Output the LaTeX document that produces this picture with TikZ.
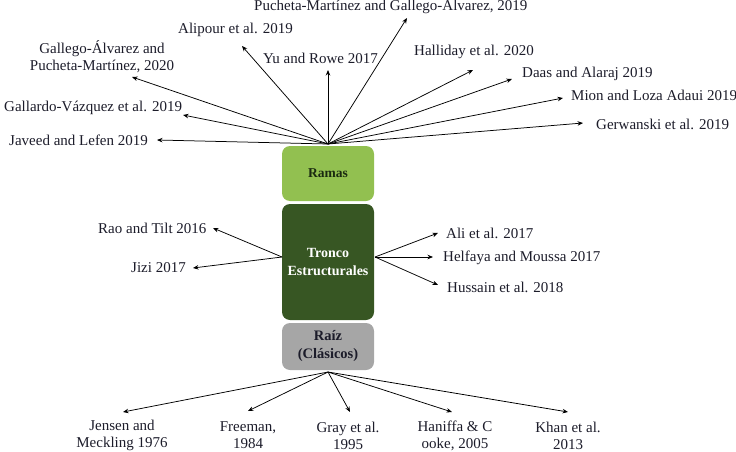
\documentclass[tikz,border=0pt]{standalone}
\usepackage{fontspec}
\setmainfont{Liberation Serif}
\usetikzlibrary{arrows.meta}
\definecolor{ramasgreen}{HTML}{92C050}
\definecolor{troncogreen}{HTML}{375623}
\definecolor{raizgray}{HTML}{A6A6A6}
\definecolor{darktxt}{HTML}{1A2A10}
\definecolor{reftxt}{HTML}{1C1C2A}
\begin{document}
\begin{tikzpicture}[x=1pt,y=-1pt,
  box/.style={rounded corners=8pt,minimum width=92pt,inner sep=0pt,align=center},
  ref/.style={font=\fontsize{15}{17}\selectfont,text=reftxt,inner sep=1pt,align=center},
  arr/.style={-{Stealth[length=5.5pt,width=4.5pt]},line width=0.75pt,black}]
\useasboundingbox (0,0) rectangle (736,452);
% boxes
\node[box,fill=ramasgreen,text=darktxt,minimum height=55pt,font=\bfseries\fontsize{13.5}{16}\selectfont] (ramas) at (328,173.5) {Ramas};
\node[box,fill=troncogreen,text=white,minimum height=116pt,font=\bfseries\fontsize{14}{18}\selectfont] (tronco) at (328,262) {Tronco\\Estructurales};
\node[box,fill=raizgray,text=reftxt,minimum height=47pt,font=\bfseries\fontsize{14.5}{18}\selectfont] (raiz) at (328,346.5) {Raíz\\(Clásicos)};
% hubs
\coordinate (htop) at (328,144);
\coordinate (hl) at (282,257);
\coordinate (hr) at (375,257);
\coordinate (hbot) at (328,372);
% top labels
\node[ref,anchor=west] (jav) at (8,140) {Javeed and Lefen 2019};
\node[ref,anchor=west] (gal) at (3,108) {Gallardo-Vázquez et al. 2019};
\node[ref] (gpm) at (102,57) {Gallego-Álvarez and\\Pucheta-Martínez, 2020};
\node[ref,anchor=west] (ali) at (177,30) {Alipour et al. 2019};
\node[ref,anchor=west] (yu) at (262,58) {Yu and Rowe 2017};
\node[ref,anchor=west] (pmg) at (253,6) {Pucheta-Martínez and Gallego-Álvarez, 2019};
\node[ref,anchor=west] (hal) at (413,52) {Halliday et al. 2020};
\node[ref,anchor=west] (daas) at (521,74) {Daas and Alaraj 2019};
\node[ref,anchor=west] (mion) at (570,95) {Mion and Loza Adaui 2019};
\node[ref,anchor=west] (ger) at (595,124) {Gerwanski et al. 2019};
\coordinate (tjav) at (157,140);
\coordinate (tgal) at (183,115);
\coordinate (tgpm) at (132,77);
\coordinate (tali) at (242,46);
\coordinate (tyu) at (328,70);
\coordinate (tpmg) at (407,18);
\coordinate (thal) at (473,70);
\coordinate (tdaas) at (512,79);
\coordinate (tmion) at (563,98);
\coordinate (tger) at (583,123);
\foreach \t in {tjav,tgal,tgpm,tali,tyu,tpmg,thal,tdaas,tmion,tger}
  \draw[arr] (htop) -- (\t);
% trunk labels
\node[ref,anchor=west] (rao) at (97,228) {Rao and Tilt 2016};
\node[ref,anchor=west] (jizi) at (130,268) {Jizi 2017};
\node[ref,anchor=west] (alie) at (445,233) {Ali et al. 2017};
\node[ref,anchor=west] (hel) at (442,258) {Helfaya and Moussa 2017};
\node[ref,anchor=west] (hus) at (446,287) {Hussain et al. 2018};
\coordinate (trao) at (213,228);
\coordinate (tjizi) at (193,268);
\coordinate (talie) at (438,233);
\coordinate (thel) at (433,257);
\coordinate (thus) at (438,285);
\draw[arr] (hl) -- (trao);
\draw[arr] (hl) -- (tjizi);
\draw[arr] (hr) -- (talie);
\draw[arr] (hr) -- (thel);
\draw[arr] (hr) -- (thus);
% root labels
\node[ref] (jen) at (122,435.5) {Jensen and\\Meckling 1976};
\node[ref] (fre) at (248,435.5) {Freeman,\\1984};
\node[ref] (gray) at (348,435.5) {Gray et al.\\1995};
\node[ref] (han) at (455,435.5) {Haniffa \& C\\ooke, 2005};
\node[ref] (khan) at (568,435.5) {Khan et al.\\2013};
\coordinate (tjen) at (123,412);
\coordinate (tfre) at (248,411);
\coordinate (tgray) at (350,412);
\coordinate (than) at (452,412);
\coordinate (tkhan) at (568,412);
\foreach \t in {tjen,tfre,tgray,than,tkhan}
  \draw[arr] (hbot) -- (\t);
\end{tikzpicture}
\end{document}
